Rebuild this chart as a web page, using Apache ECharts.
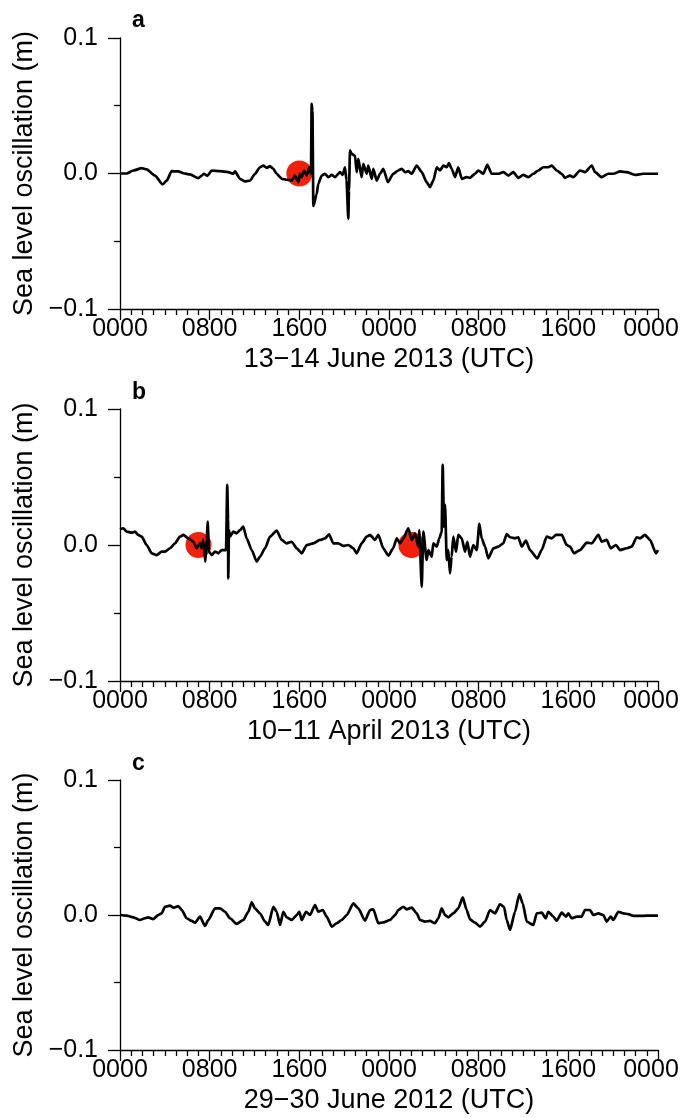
<!DOCTYPE html>
<html><head><meta charset="utf-8">
<script src="https://cdn.jsdelivr.net/npm/echarts@6/dist/echarts.min.js"></script>
<style>html,body{margin:0;padding:0;background:#fff}#c{width:683px;height:1118px}</style>
</head><body><div id="c"></div>
<script>
// Panel a: 13-14 June 2013 (hours from 0000 UTC, sea level oscillation in m)
const timeA=[0,0.6,1.19,1.93,2.38,3.12,3.81,4.17,4.61,5.2,5.65,6.25,6.99,7.29,7.49,7.79,8.18,8.92,9.66,10.11,10.26,10.71,11.15,11.6,12.05,12.49,12.79,13.09,13.38,13.68,13.98,14.43,14.87,15.32,15.61,15.91,16.06,16.21,16.42,16.66,16.89,17.04,17.1,17.17,17.25,17.55,17.69,18.0,18.29,18.59,18.89,19.18,19.48,19.63,19.87,20.07,20.21,20.37,20.43,20.52,20.67,20.97,21.12,21.26,21.56,21.71,22.01,22.15,22.46,22.6,22.9,23.2,23.49,23.9,24.38,24.83,25.13,25.43,25.72,26.03,26.47,26.92,27.36,27.66,27.95,28.26,28.55,28.85,29.15,29.35,29.59,29.89,30.18,30.49,30.93,31.23,31.67,31.97,32.42,32.77,33.16,33.75,34.2,34.65,35.09,35.54,35.98,36.43,36.88,37.32,37.77,38.21,38.52,38.96,39.41,39.7,40.15,40.44,41.04,41.49,42.09,42.38,42.98,43.57,44.01,44.61,45.21,45.95,46.69,48];
const levelA=[0,0,0.0022,0.0039,0.003,-0.0015,-0.0081,-0.0052,0.0017,0.0015,0.0002,-0.0007,-0.0035,-0.0015,-0.0002,-0.0017,0.0022,0.0017,0.001,-0.0002,0.0015,-0.0039,-0.0059,-0.0052,-0.0002,0.0046,0.0059,0.0042,0.0054,0.0035,-0.0002,-0.0039,-0.0046,-0.0052,-0.0015,-0.0064,-0.0002,-0.0027,0.0022,-0.0015,0.0046,-0.0002,0.0514,0.046,-0.024,-0.015,-0.0076,-0.0015,-0.0002,-0.0027,-0.001,-0.0027,-0.0002,0.001,-0.001,0.0046,-0.005,-0.0334,-0.0125,0.017,0.0145,0.013,0.001,0.0108,-0.0027,0.0072,-0.0002,0.0059,-0.0039,0.0035,-0.0052,-0.0002,0.0035,-0.0064,-0.0002,0.0022,0.0035,0.001,0.0017,-0.0002,0.0059,0.001,-0.0064,-0.0101,-0.0052,0.0046,0.0022,0.0059,0.0046,0.0076,0.0035,-0.0027,0.0046,-0.0039,-0.0027,-0.0032,-0.0002,0.0022,-0.0002,0.0064,-0.0002,-0.0002,0.001,-0.0015,0.001,-0.0032,-0.001,-0.0027,-0.0002,0.0022,0.0046,0.0046,0.0059,0.0022,-0.0002,-0.0032,-0.0015,-0.0027,0.0022,0.001,0.0059,0.001,-0.0027,-0.0002,-0.0002,0.0015,0.001,-0.001,-0.0002,-0.0002];

// Panel b: 10-11 April 2013
const timeB=[0,0.29,0.6,1.04,1.34,1.63,1.94,2.38,2.83,3.27,3.72,4.01,4.46,4.91,5.35,5.65,6.09,6.54,6.84,7.14,7.29,7.43,7.61,7.74,7.82,7.94,8.18,8.48,8.77,9.07,9.46,9.57,9.64,9.66,9.72,9.81,10.11,10.41,10.71,11.0,11.3,11.75,12.2,12.49,12.94,13.38,13.98,14.43,14.87,15.32,15.77,16.21,16.66,17.25,17.84,18.29,18.65,19.03,19.48,19.92,20.37,20.82,21.12,21.56,22.01,22.31,22.75,23.05,23.49,23.94,24.38,24.69,24.98,25.28,25.72,26.03,26.32,26.61,26.7,26.92,27.06,27.36,27.51,27.81,27.95,28.26,28.49,28.7,28.79,28.91,29.0,29.15,29.29,29.44,29.59,29.74,29.98,30.18,30.49,30.78,30.99,31.23,31.52,31.83,32.06,32.27,32.57,32.86,33.31,33.75,34.2,34.5,34.8,35.24,35.54,35.84,36.22,36.58,37.23,37.62,38.07,38.52,38.9,39.41,39.86,40.15,40.51,41.04,41.64,42.09,42.68,42.98,43.42,43.78,44.25,44.61,45.21,45.65,46.1,46.39,46.84,47.29,47.82,48];
const levelB=[0.0116,0.0123,0.0098,0.0091,0.0098,0.0074,0.0061,0,-0.0061,-0.0074,-0.0049,-0.0049,-0.0024,0.0012,0.0061,0.0074,0.0049,0.0024,-0.0024,0.0012,-0.0024,0.0037,-0.0123,0.0037,0.0172,-0.0049,-0.0074,-0.0049,-0.0061,-0.0037,-0.0037,0.0443,0.0185,-0.0246,0.011,0.0061,0.0098,0.0086,0.011,0.0135,0.0049,-0.0037,-0.0123,-0.0086,-0.0024,0.0061,0.0106,0.0037,0.0012,0.0024,-0.0024,-0.0061,0,0.0012,0.0037,0.0049,0.0079,0.0012,0.0012,-0.0007,0,-0.0024,-0.0061,0.0012,0.0061,0.0074,0.0037,0.0074,-0.0024,-0.0078,-0.0022,0.0049,0.0012,0.0049,0.0123,0.0037,0.0086,-0.0012,0.011,-0.0308,0.0098,-0.011,-0.0037,-0.0086,0.0012,-0.0012,0.0049,0.0098,0.059,0.0135,0.0295,-0.011,-0.0037,-0.0209,-0.0086,0.0061,-0.0049,0.0074,0.0049,-0.0049,0.0024,-0.0086,0,-0.0037,0.0155,0.0049,-0.0012,-0.0098,-0.0024,-0.0012,0.0012,0.0081,0.0057,0.0049,0.0057,-0.0012,0.0032,-0.0037,-0.0098,-0.0037,0.0061,0.0049,0.0074,0.0074,0,-0.0012,-0.0061,-0.0037,0.0017,0.0012,0.0074,0.0024,0.0037,-0.0024,0,-0.0037,-0.0024,-0.0012,0.0057,0.0049,0.0074,0.0037,-0.0061,-0.0037];

// Panel c: 29-30 June 2012
const timeC=[0,0.6,1.19,1.78,2.23,2.52,2.97,3.42,3.72,4.01,4.46,4.76,5.2,5.51,5.95,6.4,6.69,7.14,7.58,7.88,8.48,8.92,9.37,9.81,10.41,11.0,11.45,11.75,12.04,12.49,12.94,13.23,13.68,13.98,14.28,14.57,14.87,15.32,15.77,16.0,16.21,16.6,16.95,17.4,17.69,18.09,18.44,18.89,19.33,19.78,20.23,20.82,21.26,21.86,22.31,22.6,23.05,23.49,24.09,24.54,24.83,25.28,25.58,26.03,26.47,26.77,27.21,27.66,28.1,28.4,28.7,29.0,29.29,29.74,30.18,30.58,30.93,31.23,31.67,32.12,32.57,33.01,33.46,33.9,34.26,34.5,34.8,35.24,35.63,35.93,36.29,36.88,37.18,37.63,37.98,38.21,38.66,38.96,39.41,39.79,40.0,40.3,40.75,41.19,41.49,41.93,42.23,42.68,43.12,43.42,43.78,44.01,44.46,44.9,45.35,45.8,46.39,46.99,48];
const levelC=[0,-0.0005,-0.0017,-0.0037,-0.0024,-0.0017,-0.003,0,0.0012,0.0061,0.0069,0.0054,0.0066,0.0037,-0.0024,-0.0044,-0.0057,-0.0012,-0.0081,-0.0037,0.0049,0.0049,0.0024,-0.0024,-0.0066,-0.0037,0.0024,0.0094,0.0049,0.0012,-0.0049,-0.0074,0.0061,0.0024,-0.0074,0.0024,-0.0017,-0.0037,0,0.0024,-0.0037,0.0024,0,0.0074,0.0024,0.0037,-0.0012,-0.0086,-0.0061,-0.0037,0,0.0086,0.0049,-0.0042,0.0037,0.0042,-0.0061,-0.0054,-0.0037,0,0.0037,0.0061,0.0042,0.0054,0.0012,-0.0037,-0.0049,-0.0044,-0.0061,-0.0024,0.0049,0,-0.0017,0.0012,0.0049,0.013,0.0037,-0.0032,-0.0057,-0.0086,-0.0049,0.0037,0.0012,0.0079,0.0061,-0.0037,-0.0111,0.0024,0.0153,0.0086,-0.0049,-0.0074,0.0012,0.0017,-0.0024,0.0024,-0.0012,-0.0042,0.0017,-0.0012,0.0012,-0.0024,-0.0012,-0.0012,0.0037,0.0037,0,0.0012,0,-0.0049,-0.0012,-0.0037,0.0024,0.0012,0.0007,-0.0007,-0.0007,-0.0005,-0.0005];

// Marked events (red circles), hours from start
const eventA=[16];
const eventB=[7,26];
const eventC=[];

const panelLetters=['a','b','c'];
const dateLabels=['13\u221214 June 2013 (UTC)','10\u221211 April 2013 (UTC)','29\u221230 June 2012 (UTC)'];
const yTitle='Sea level oscillation (m)';

const times=[timeA,timeB,timeC];
const levels=[levelA,levelB,levelC];
const events=[eventA,eventB,eventC];

const F='"Liberation Sans", Arial, Helvetica, sans-serif';
const gridPos=[{top:38,height:271},{top:409,height:272},{top:780,height:270}];
const letterTop=[4,376,747];
const black={color:'#000',width:1.3};

const grid=gridPos.map(g=>({left:120,width:538,top:g.top,height:g.height,outerBoundsMode:'none',containLabel:false}));
const xAxis=gridPos.map((g,i)=>({
  type:'value',gridIndex:i,min:0,max:48,interval:8,
  axisLine:{show:true,onZero:false,lineStyle:black},
  axisTick:{show:true,length:11,lineStyle:black},
  minorTick:{show:true,splitNumber:8,length:6,lineStyle:black},
  splitLine:{show:false},minorSplitLine:{show:false},
  axisLabel:{color:'#000',fontSize:25,fontFamily:F,margin:8,
    formatter:v=>{const s=String(Math.round(v%24)*100).padStart(4,'0');return v>=48?'{last|'+s+'}':s;},
    rich:{last:{color:'#000',fontSize:25,fontFamily:F,padding:[0,14,0,0]}}},
  name:dateLabels[i],nameLocation:'middle',nameGap:37,
  nameTextStyle:{color:'#000',fontSize:27,fontFamily:F}
}));
const yAxis=gridPos.map((g,i)=>({
  type:'value',gridIndex:i,min:-0.1,max:0.1,interval:0.1,
  axisLine:{show:true,onZero:false,lineStyle:black},
  axisTick:{show:true,length:12,lineStyle:black},
  minorTick:{show:true,splitNumber:2,length:6,lineStyle:black},
  splitLine:{show:false},minorSplitLine:{show:false},
  axisLabel:{color:'#000',fontSize:25,fontFamily:F,margin:22,
    formatter:v=>(v<-1e-9?'\u2212':'')+Math.abs(v).toFixed(1)},
  name:yTitle,nameLocation:'middle',nameGap:82,nameRotate:90,
  nameTextStyle:{color:'#000',fontSize:27,fontFamily:F}
}));
const series=[];
times.forEach((t,i)=>{
  series.push({type:'scatter',xAxisIndex:i,yAxisIndex:i,z:1,symbolSize:26,
    itemStyle:{color:'#f0200c',opacity:1},data:events[i].map(h=>[h,0]),silent:true});
  series.push({type:'line',xAxisIndex:i,yAxisIndex:i,z:2,showSymbol:false,symbol:'none',
    smooth:0.2,smoothMonotone:'x',
    lineStyle:{color:'#000',width:2.7,join:'round'},
    data:t.map((h,k)=>[h,levels[i][k]])});
});
const chart=echarts.init(document.getElementById('c'),null,{renderer:'canvas'});
chart.setOption({
  animation:false,backgroundColor:'#fff',
  title:panelLetters.map((l,i)=>({text:l,left:127,top:letterTop[i],
    textStyle:{fontSize:23,fontWeight:'bold',fontFamily:F,color:'#000'}})),
  grid,xAxis,yAxis,series
});
</script></body></html>
